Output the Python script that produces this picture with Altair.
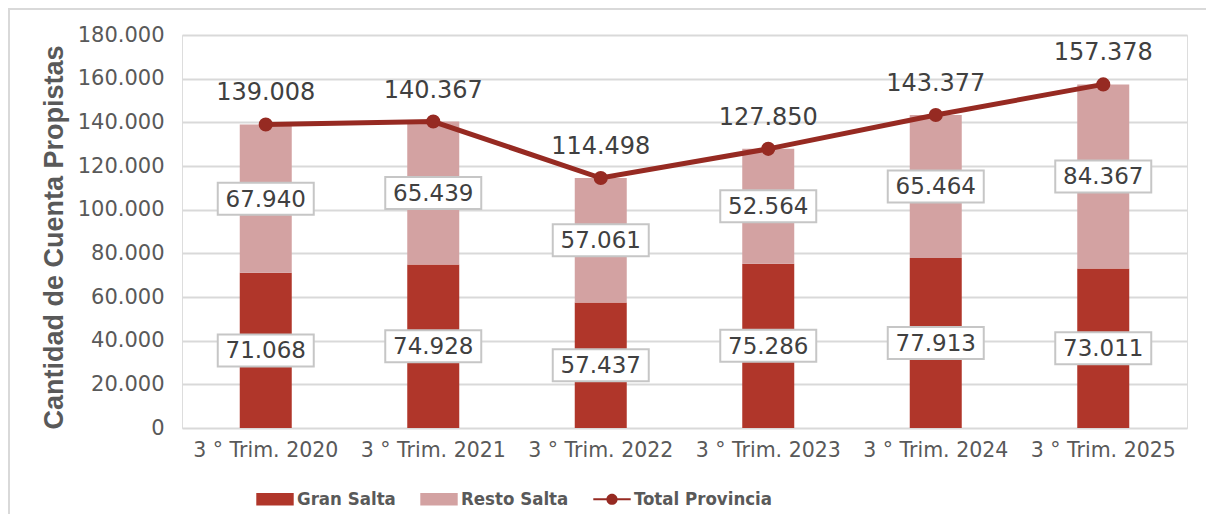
import altair as alt
import pandas as pd

categories = ["3 ° Trim. 2020", "3 ° Trim. 2021", "3 ° Trim. 2022",
              "3 ° Trim. 2023", "3 ° Trim. 2024", "3 ° Trim. 2025"]
gran_salta = [71068, 74928, 57437, 75286, 77913, 73011]
resto_salta = [67940, 65439, 57061, 52564, 65464, 84367]
total_provincia = [139008, 140367, 114498, 127850, 143377, 157378]

series_names = ["Gran Salta", "Resto Salta", "Total Provincia"]
series_colors = ["#b0362a", "#d3a2a2", "#962a22"]

rows = []
for c, g, r in zip(categories, gran_salta, resto_salta):
    rows.append({"cat": c, "series": "Gran Salta", "hex": series_colors[0],
                 "v0": 0, "v1": g, "val": g})
    rows.append({"cat": c, "series": "Resto Salta", "hex": series_colors[1],
                 "v0": g, "v1": g + r, "val": r})
bars_df = pd.DataFrame(rows)
bars_df["mid"] = (bars_df["v0"] + bars_df["v1"]) / 2
total_df = pd.DataFrame({"cat": categories, "total": total_provincia,
                         "series": "Total Provincia"})
legend_df = pd.DataFrame({"series": series_names})

FONT = "DejaVu Sans"
W, H = 1005, 393
fmt = "replace(format(datum.{f}, ',d'), ',', '.')"

xenc = alt.X("cat:N", sort=categories, title=None,
             scale=alt.Scale(paddingInner=0, paddingOuter=0),
             axis=alt.Axis(labelFont=FONT, labelFontSize=20.5, labelColor="#595959",
                           labelPadding=12, ticks=False, domain=False, labelAngle=0))
yscale = alt.Scale(domain=[0, 180000], nice=False)
color_scale = alt.Scale(domain=series_names, range=series_colors)

rect_path = "M-1,-0.33H1V0.33H-1Z"
line_path = ("M-1,-0.06H1V0.06H-1Z "
             "M0.3,0A0.3,0.3 0 1,1 -0.3,0A0.3,0.3 0 1,1 0.3,0Z")

frame_left = alt.Chart(total_df).mark_rule(
    stroke="#d9d9d9", strokeWidth=2, clip=False
).encode(x=alt.value(-173), y=alt.value(-26), y2=alt.value(520))
frame_top = alt.Chart(total_df).mark_rule(
    stroke="#d9d9d9", strokeWidth=2, clip=False
).encode(x=alt.value(-174), x2=alt.value(1060), y=alt.value(-26))

bars = alt.Chart(bars_df).mark_bar(size=52).encode(
    x=xenc,
    y=alt.Y("v0:Q", scale=yscale,
            title="Cantidad de Cuenta Propistas",
            axis=alt.Axis(values=list(range(0, 180001, 20000)),
                          labelExpr=fmt.format(f="value"),
                          labelFont=FONT, labelFontSize=21, labelColor="#595959",
                          labelPadding=18, ticks=False, domain=False,
                          gridColor="#d9d9d9", gridWidth=2,
                          titleFont="Liberation Sans", titleFontSize=27,
                          titleFontWeight="bold", titleColor="#595959",
                          titleX=-128, titleY=202, titleBaseline="middle",
                          titleAngle=270)),
    y2="v1:Q",
    color=alt.Color("hex:N", scale=None),
)

boxes = alt.Chart(bars_df).mark_point(
    shape="M-3,-1H3V1H-3Z", size=1024, filled=True, fill="white",
    stroke="#c6c6c6", strokeWidth=2, opacity=1
).encode(x=xenc, y=alt.Y("mid:Q", scale=yscale))

box_text = alt.Chart(bars_df).transform_calculate(
    lab=fmt.format(f="val")
).mark_text(font=FONT, fontSize=23, color="#404040", baseline="middle", dy=1).encode(
    x=xenc, y=alt.Y("mid:Q", scale=yscale), text="lab:N")

line = alt.Chart(total_df).mark_line(strokeWidth=5, color="#962a22").encode(
    x=xenc, y=alt.Y("total:Q", scale=yscale))
pts = alt.Chart(total_df).mark_circle(size=200, opacity=1, color="#962a22").encode(
    x=xenc, y=alt.Y("total:Q", scale=yscale))
tot_text = alt.Chart(total_df).transform_calculate(
    lab=fmt.format(f="total")
).mark_text(font=FONT, fontSize=24, color="#404040", baseline="middle", dy=-31).encode(
    x=xenc, y=alt.Y("total:Q", scale=yscale), text="lab:N")

leg = alt.Legend(orient="none", legendX=74, legendY=445,
                 direction="horizontal", symbolSize=1400,
                 symbolStrokeWidth=0,
                 labelFont="DejaVu Sans Condensed, Liberation Sans",
                 labelFontSize=18.5, labelFontWeight="bold",
                 labelColor="#595959", labelOffset=3,
                 columnPadding=24, padding=0)

legend_layer = alt.Chart(legend_df).transform_filter("false").mark_point(
    filled=True, opacity=1
).encode(
    color=alt.Color("series:N", scale=color_scale, title=None, legend=leg),
    shape=alt.Shape("series:N", scale=alt.Scale(domain=series_names,
                                                range=[rect_path, rect_path, line_path]),
                    title=None, legend=leg),
)

chart = alt.layer(frame_left, frame_top, bars, line, pts, boxes, box_text, tot_text,
                  legend_layer).properties(
    width=W, height=H,
    autosize=alt.AutoSizeParams(type="none"),
    padding={"left": 174, "top": 27, "right": 19, "bottom": 86},
).configure_view(stroke=None).configure(background="white")

chart.save("out.html", embed_options={"renderer": "svg", "actions": False})
